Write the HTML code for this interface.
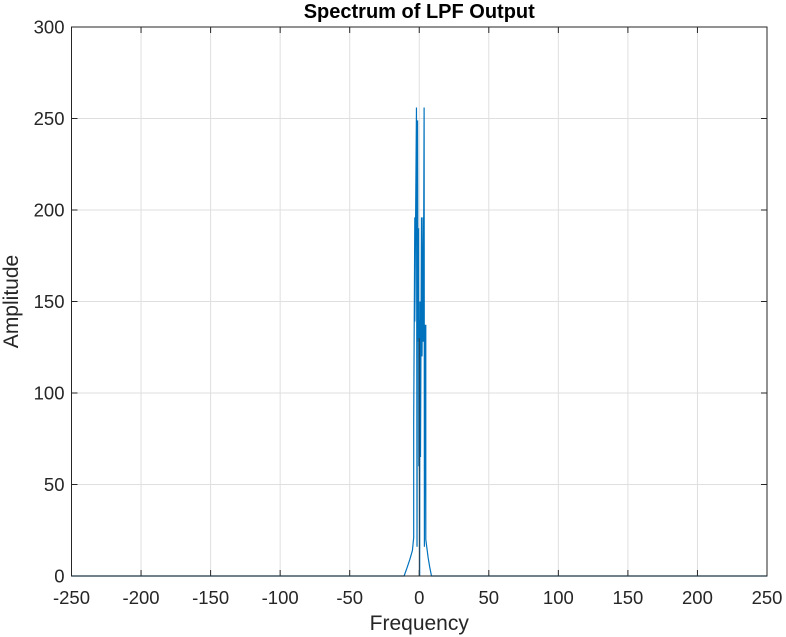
<!DOCTYPE html>
<html><head><meta charset="utf-8"><style>
body{margin:0;background:#fff;}
svg{display:block;font-family:"Liberation Sans",sans-serif;}
</style></head><body>
<svg id="chart" width="786" height="637"></svg>
<script>
const xTicks=[-250,-200,-150,-100,-50,0,50,100,150,200,250];
const yTicks=[0,50,100,150,200,250,300];
const freqs=[-250,-10.9,-9,-6.8,-4.9,-4.0,-4.0,-3.2,-3.2,-2.0,-1.6,-1.2,-0.9,-0.5,-0.3,0,0.3,0.5,0.9,1.6,2.0,2.7,2.9,3.5,3.7,4.2,4.7,4.7,6.4,7.5,8.8,250];
const amps=[0,0,4,9,14,21,84,196,139,256,16,249,128,190,60,140,0,150,65,196,120,196,128,256,16,137,137,20,10,5,0,0];
const L=71.5,R=767,T=27,B=576;
const sx=v=>L+(v+250)/500*(R-L);
const sy=v=>B-v/300*(B-T);
const svg=document.getElementById('chart');
const NS='http://www.w3.org/2000/svg';
function mk(tag,attrs,parent){const e=document.createElementNS(NS,tag);for(const k in attrs)e.setAttribute(k,attrs[k]);(parent||svg).appendChild(e);return e;}
mk('rect',{x:L,y:T,width:R-L,height:B-T,fill:'#fff'});
xTicks.forEach(t=>{
  const g=mk('line',{x1:sx(t),x2:sx(t),y1:T,y2:B,stroke:'#dfdfdf','stroke-width':1});
  
  
  mk('line',{x1:sx(t),x2:sx(t),y1:B,y2:B-6,stroke:'#262626'});
  mk('line',{x1:sx(t),x2:sx(t),y1:T,y2:T+6,stroke:'#262626'});
  const tx=mk('text',{x:sx(t),y:B+28,'text-anchor':'middle','font-size':18.5,fill:'#262626'});
  tx.textContent=t;
  
  
});
yTicks.forEach(t=>{
  const g=mk('line',{x1:L,x2:R,y1:sy(t),y2:sy(t),stroke:'#dfdfdf','stroke-width':1});
  
  
  mk('line',{x1:L,x2:L+6,y1:sy(t),y2:sy(t),stroke:'#262626'});
  mk('line',{x1:R,x2:R-6,y1:sy(t),y2:sy(t),stroke:'#262626'});
  const tx=mk('text',{x:L-7,y:sy(t)+6.5,'text-anchor':'end','font-size':18.5,fill:'#262626'});
  tx.textContent=t;
  
  
});
const pts=freqs.map((f,i)=>sx(f).toFixed(2)+','+sy(amps[i]).toFixed(2)).join(' ');
const line=mk('polyline',{points:pts,fill:'none',stroke:'#0072bd','stroke-width':1.2});


mk('line',{x1:sx(0),x2:sx(0),y1:sy(130),y2:B,stroke:'#333','stroke-width':0.8});
const box=mk('rect',{x:L,y:T,width:R-L,height:B-T,fill:'none',stroke:'#262626','stroke-width':1});


const title=mk('text',{x:(L+R)/2,y:18,'text-anchor':'middle','font-size':20,'font-weight':'bold',fill:'#000'});
title.textContent='Spectrum of LPF Output';


const xl=mk('text',{x:(L+R)/2,y:630,'text-anchor':'middle','font-size':21,fill:'#262626'});
xl.textContent='Frequency';


const yl=mk('text',{x:0,y:0,'text-anchor':'middle','font-size':21,fill:'#262626',transform:'translate(18,'+((T+B)/2)+') rotate(-90)'});
yl.textContent='Amplitude';


</script>
</body></html>
